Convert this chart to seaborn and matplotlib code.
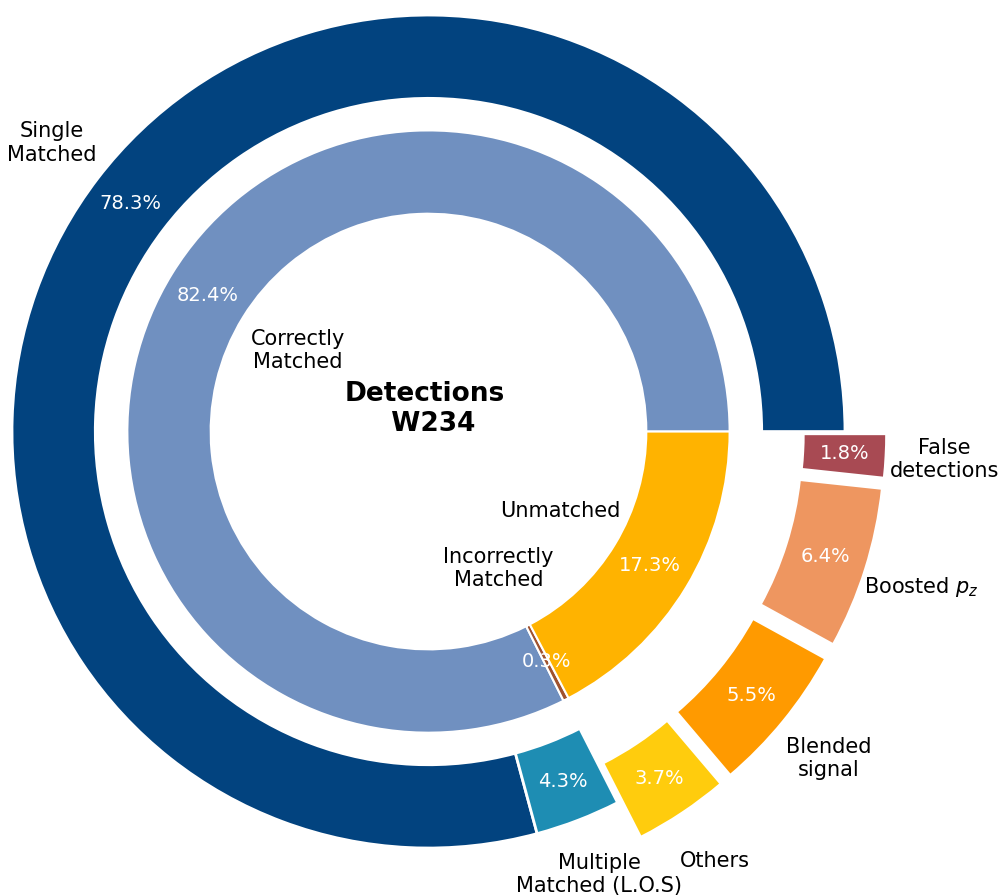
import matplotlib
matplotlib.use('Agg')
import matplotlib.pyplot as plt
import seaborn as sns

# Outer ring: type of detection (wedge sizes as drawn, printed percentages as shown)
outer_labels = ['Single\nMatched', 'Multiple\nMatched (L.O.S)', 'Others',
                'Blended\nsignal', 'Boosted $p_z$', 'False\ndetections']
outer_values = [79.2, 3.3, 3.7, 5.8, 6.3, 1.7]
outer_pct = ['78.3%', '4.3%', '3.7%', '5.5%', '6.4%', '1.8%']
outer_colors = ['#02437F', '#1E8DB3', '#FFCC0D', '#FF9A00', '#EE9660', '#A84A53']
outer_explode = [0, 0, 0.1, 0.1, 0.1, 0.1]

# Inner ring: matching
inner_labels = ['Correctly\nMatched', 'Incorrectly\nMatched', 'Unmatched']
inner_values = [82.4, 0.3, 17.3]
inner_colors = ['#7090C0', '#A0522D', '#FFB300']

sns.set_theme(style='white')
plt.rcParams['font.family'] = ['DejaVu Sans']

fig = plt.figure(figsize=(10.07, 8.96), dpi=100)
ax = fig.add_axes([0, 0, 1, 1])

# ----------------------- Anneau extérieur ------------------------
wedges, texts, autotexts = ax.pie(
    outer_values, labels=outer_labels, colors=outer_colors, explode=outer_explode,
    startangle=0, counterclock=True, radius=1.0, autopct='%1.1f%%',
    pctdistance=0.9, labeldistance=1.14,
    wedgeprops=dict(width=0.2, edgecolor='white', linewidth=2),
    textprops=dict(ha='center', fontsize=15, color='black'))
for t, s in zip(autotexts, outer_pct):
    t.set_text(s)
plt.setp(autotexts, color='white', fontsize=14)

# ----------------------- Anneau intérieur ------------------------
r_in = 0.723
wedges2, texts2, autotexts2 = ax.pie(
    inner_values, labels=inner_labels, colors=inner_colors,
    startangle=0, counterclock=True, radius=r_in, autopct='%1.1f%%',
    pctdistance=0.86, labeldistance=0.51,
    wedgeprops=dict(width=0.2, edgecolor='white', linewidth=1.5),
    textprops=dict(ha='center', fontsize=15, color='black'))
plt.setp(autotexts2, color='white', fontsize=14)

ax.text(-0.01, 0.053, 'Detections\n  W234', ha='center', va='center',
        fontsize=19, fontweight='bold', color='black')

ax.set_xlim(-1.0288, 1.389)
ax.set_ylim(-1.115, 1.036)
ax.set_aspect('equal')
ax.axis('off')

fig.savefig('out.png', dpi=100)
